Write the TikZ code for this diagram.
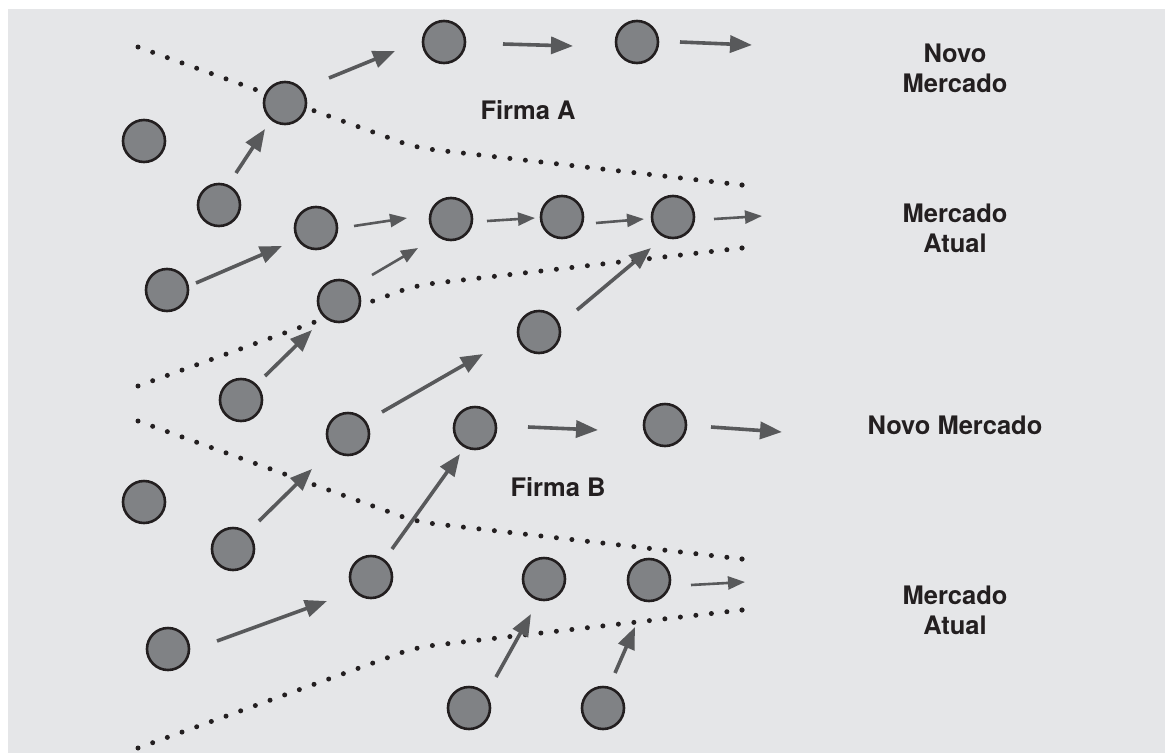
\documentclass[tikz,border=0pt]{standalone}
\usepackage{fontspec}
\setmainfont{TeX Gyre Heros}
\usetikzlibrary{arrows.meta}
\definecolor{bgcol}{HTML}{E5E6E8}
\definecolor{ink}{HTML}{231F20}
\definecolor{ballgrey}{HTML}{808285}
\definecolor{arrgrey}{HTML}{58595B}
\tikzset{
  firm/.style={circle, draw=ink, fill=ballgrey, line width=2.6pt, minimum size=42pt, inner sep=0pt},
  thickarr/.style={draw=arrgrey, line width=3.6pt, -{Triangle[length=22pt,width=17pt]}},
  thinarr/.style={draw=arrgrey, line width=2.6pt, -{Triangle[length=17pt,width=13pt]}},
  bound/.style={draw=ink, line width=5pt, line cap=round, dash pattern=on 0pt off 15.6pt},
  enddot/.style={fill=ink}
}
\tikzset{lbl/.style={font=\fontsize{25.5}{30}\selectfont\bfseries, text=ink, align=center}}
\begin{document}
\begin{tikzpicture}[x=1pt,y=-1pt]
\useasboundingbox (0,0) rectangle (1165,753);
\fill[bgcol] (8,9) rectangle (1165,753);

% dotted boundaries
\draw[bound] (138,47) -- (395,140) .. controls (410,146) and (425,149) .. (445,151) -- (742,185);
\draw[bound] (138,386) -- (395,293) .. controls (410,287) and (425,284) .. (445,282) -- (742,248);
\draw[bound] (138,421) -- (395,514) .. controls (410,520) and (425,523) .. (445,525) -- (742,559);
\draw[bound] (138,748) -- (395,655) .. controls (410,649) and (425,646) .. (445,644) -- (742,610);
\coordinate (d1) at (742,185);
\coordinate (d2) at (742,248);
\coordinate (d3) at (742,559);
\coordinate (d4) at (742,610);
\foreach \d in {d1,d2,d3,d4} \fill[enddot] (\d) circle (2.6pt);

% circles
\node[firm] (c1) at (444,42) {};
\node[firm] (c2) at (637,42) {};
\node[firm] (c3) at (285,103) {};
\node[firm] (c4) at (144,141) {};
\node[firm] (c5) at (219,205) {};
\node[firm] (c6) at (316,228) {};
\node[firm] (c7) at (451,219) {};
\node[firm] (c8) at (562,217) {};
\node[firm] (c9) at (673,217) {};
\node[firm] (c10) at (167,290) {};
\node[firm] (c11) at (339,301) {};
\node[firm] (c12) at (539,332) {};
\node[firm] (c13) at (241,400) {};
\node[firm] (c14) at (348,434) {};
\node[firm] (c15) at (475,428) {};
\node[firm] (c16) at (665,425) {};
\node[firm] (c17) at (144,502) {};
\node[firm] (c18) at (233,549) {};
\node[firm] (c19) at (371,577) {};
\node[firm] (c20) at (544,579) {};
\node[firm] (c21) at (649,580) {};
\node[firm] (c22) at (168,649) {};
\node[firm] (c23) at (469,708) {};
\node[firm] (c24) at (603,708) {};

% arrow end points
\coordinate (a1s) at (329,78);  \coordinate (a1e) at (395,51);
\coordinate (a2s) at (503,44);  \coordinate (a2e) at (573,46);
\coordinate (a3s) at (680,42);  \coordinate (a3e) at (752,45);
\coordinate (a4s) at (236,173); \coordinate (a4e) at (265,129);
\coordinate (a5s) at (354,226); \coordinate (a5e) at (407,218);
\coordinate (a6s) at (487,221); \coordinate (a6e) at (535,218);
\coordinate (a7s) at (596,223); \coordinate (a7e) at (644,219);
\coordinate (a8s) at (714,219); \coordinate (a8e) at (762,216);
\coordinate (a9s) at (196,283); \coordinate (a9e) at (282,246);
\coordinate (a10s) at (372,275); \coordinate (a10e) at (418,248);
\coordinate (a11s) at (577,310); \coordinate (a11e) at (651,248);
\coordinate (a12s) at (265,376); \coordinate (a12e) at (312,330);
\coordinate (a13s) at (382,412); \coordinate (a13e) at (483,354);
\coordinate (a14s) at (259,521); \coordinate (a14e) at (312,469);
\coordinate (a15s) at (392,549); \coordinate (a15e) at (460,454);
\coordinate (a16s) at (528,427); \coordinate (a16e) at (598,430);
\coordinate (a17s) at (711,427); \coordinate (a17e) at (782,432);
\coordinate (a18s) at (217,641); \coordinate (a18e) at (327,601);
\coordinate (a19s) at (496,677); \coordinate (a19e) at (531,614);
\coordinate (a20s) at (615,673); \coordinate (a20e) at (635,627);
\coordinate (a21s) at (691,585); \coordinate (a21e) at (745,582);

\draw[thickarr] (a1s) -- (a1e);
\draw[thickarr] (a2s) -- (a2e);
\draw[thickarr] (a3s) -- (a3e);
\draw[thickarr] (a4s) -- (a4e);
\draw[thinarr] (a5s) -- (a5e);
\draw[thinarr] (a6s) -- (a6e);
\draw[thinarr] (a7s) -- (a7e);
\draw[thinarr] (a8s) -- (a8e);
\draw[thickarr] (a9s) -- (a9e);
\draw[thinarr] (a10s) -- (a10e);
\draw[thickarr] (a11s) -- (a11e);
\draw[thickarr] (a12s) -- (a12e);
\draw[thickarr] (a13s) -- (a13e);
\draw[thickarr] (a14s) -- (a14e);
\draw[thickarr] (a15s) -- (a15e);
\draw[thickarr] (a16s) -- (a16e);
\draw[thickarr] (a17s) -- (a17e);
\draw[thickarr] (a18s) -- (a18e);
\draw[thickarr] (a19s) -- (a19e);
\draw[thickarr] (a20s) -- (a20e);
\draw[thinarr] (a21s) -- (a21e);

% labels
\node[lbl] (t1) at (955,68) {Novo\\Mercado};
\node[lbl] (t2) at (955,228) {Mercado\\Atual};
\node[lbl] (t3) at (955,425) {Novo Mercado};
\node[lbl] (t4) at (955,610) {Mercado\\Atual};
\node[lbl] (fa) at (528,110) {Firma A};
\node[lbl] (fb) at (558,487) {Firma B};
\end{tikzpicture}
\end{document}
